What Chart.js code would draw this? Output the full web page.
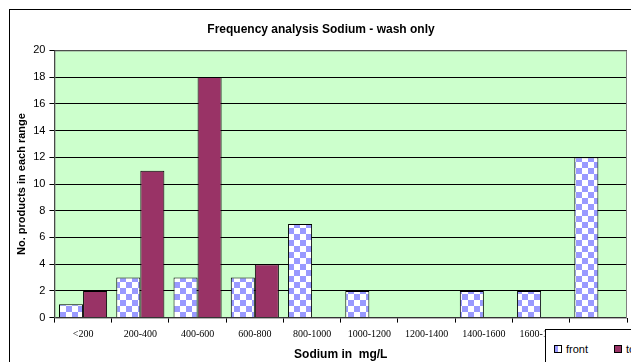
<!DOCTYPE html>
<html lang="en">
<head>
  <meta charset="UTF-8">
  <title>Frequency analysis Sodium - wash only</title>
  <script src="https://cdn.jsdelivr.net/npm/chart.js"></script>
  <style>
    html, body {
      margin: 0;
      padding: 0;
      background: white;
      overflow: hidden;
      width: 631px;
      height: 362px;
    }
    #frame {
      position: absolute;
      left: 9px;
      top: 9px;
      width: 700px;
      height: 400px;
      border: 1px solid black;
      box-sizing: border-box;
    }
    #wrap {
      position: absolute;
      left: 0;
      top: 0;
      width: 631px;
      height: 362px;
    }
    #legendBox {
      position: absolute;
      left: 545px;
      top: 329px;
      width: 120px;
      height: 40px;
      border: 1px solid black;
      background: white;
      font-family: Arial, "Liberation Sans", sans-serif;
      font-size: 11px;
      color: black;
    }
    #legendBox span.item {
      position: absolute;
      top: 13px;
      white-space: nowrap;
    }
    #legendBox i {
      display: inline-block;
      width: 6px;
      height: 6px;
      border: 1px solid black;
      margin-right: 4px;
      vertical-align: 0px;
    }
  </style>
</head>
<body>

<div id="frame"></div>
<div id="wrap">
  <canvas id="freqChart" width="631" height="362"></canvas>
</div>
<div id="legendBox">
  <span class="item" style="left:8px"><i style="background:linear-gradient(90deg,#9999ff 50%,#fff 50%)"></i>front</span>
  <span class="item" style="left:68px"><i style="background:#993366"></i>top</span>
</div>

<script>
  const categories = ["<200", "200-400", "400-600", "600-800", "800-1000", "1000-1200", "1200-1400", "1400-1600", "1600-1800", ">1800"];
  const frontValues = [1, 3, 3, 3, 7, 2, 0, 2, 2, 12];
  const topValues = [2, 11, 18, 4, 0, 0, 0, 0, 0, 0];

  // blue/white checker fill like the old Excel pattern
  function checker() {
    const c = document.createElement('canvas');
    c.width = 12; c.height = 12;
    const g = c.getContext('2d');
    g.fillStyle = '#ffffff';
    g.fillRect(0, 0, 12, 12);
    g.fillStyle = '#9999ff';
    g.fillRect(0, 0, 6, 6);
    g.fillRect(6, 6, 6, 6);
    return g.createPattern(c, 'repeat');
  }

  const plotBg = {
    id: 'plotBg',
    beforeDraw(chart) {
      const a = chart.chartArea, ctx = chart.ctx;
      ctx.save();
      ctx.fillStyle = '#ccffcc';
      ctx.fillRect(a.left, a.top, a.right - a.left, a.bottom - a.top);
      ctx.restore();
    },
    afterDatasetsDraw(chart) {
      const a = chart.chartArea, ctx = chart.ctx;
      ctx.save();
      ctx.strokeStyle = '#808080';
      ctx.lineWidth = 1;
      ctx.strokeRect(a.left + 0.5, a.top + 0.5, a.right - a.left - 1, a.bottom - a.top);
      ctx.restore();
    }
  };

  const ctx = document.getElementById('freqChart').getContext('2d');
  new Chart(ctx, {
    type: 'bar',
    data: {
      labels: categories,
      datasets: [{
        label: 'front',
        data: frontValues,
        backgroundColor: checker(),
        borderColor: '#000000',
        borderWidth: 1,
        categoryPercentage: 0.84,
        barPercentage: 1.0
      }, {
        label: 'top',
        data: topValues,
        backgroundColor: '#993366',
        borderColor: '#000000',
        borderWidth: 1,
        categoryPercentage: 0.84,
        barPercentage: 1.0
      }]
    },
    options: {
      responsive: false,
      animation: false,
      layout: { padding: { left: 15, right: 4, top: 4, bottom: 0 } },
      plugins: {
        legend: { display: false },
        tooltip: { enabled: false },
        title: {
          display: true,
          text: 'Frequency analysis Sodium - wash only',
          color: '#000',
          font: { family: 'Arial, "Liberation Sans"', size: 12, weight: 'bold' },
          padding: { top: 18, bottom: 14 }
        }
      },
      scales: {
        x: {
          grid: {
            offset: true,
            drawOnChartArea: false,
            drawTicks: true,
            tickLength: 5,
            color: '#000'
          },
          border: { display: false },
          ticks: {
            color: '#000',
            maxRotation: 0,
            autoSkip: false,
            padding: 6,
            font: { family: '"Times New Roman", "Liberation Serif", serif', size: 10 }
          },
          title: {
            display: true,
            text: 'Sodium in  mg/L',
            color: '#000',
            font: { family: 'Arial, "Liberation Sans"', size: 12, weight: 'bold' },
            padding: { top: 1, bottom: 0 }
          }
        },
        y: {
          min: 0,
          max: 20,
          grid: {
            color: '#000',
            drawTicks: true,
            tickLength: 5
          },
          border: { color: '#000' },
          ticks: {
            stepSize: 2,
            color: '#000',
            padding: 4,
            font: { family: 'Arial, "Liberation Sans"', size: 11 }
          },
          title: {
            display: true,
            text: 'No. products in each range',
            color: '#000',
            font: { family: 'Arial, "Liberation Sans"', size: 11, weight: 'bold' },
            padding: { top: 0, bottom: 1 }
          }
        }
      }
    },
    plugins: [plotBg]
  });
</script>

</body>
</html>
